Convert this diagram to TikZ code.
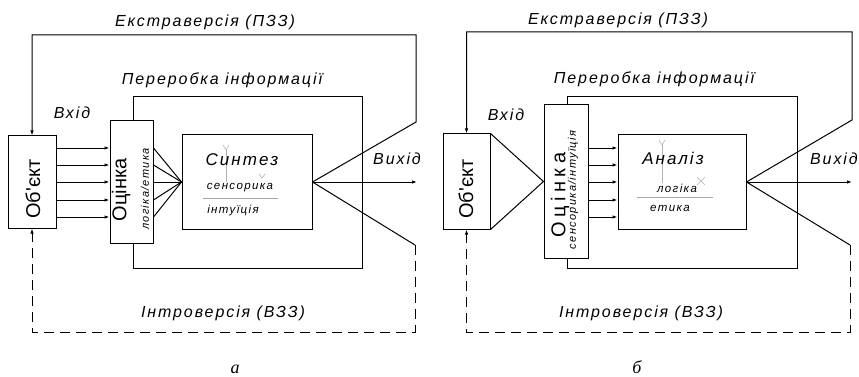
\documentclass[tikz,border=0pt]{standalone}
\usepackage{fontspec}
\usetikzlibrary{arrows.meta}
\newfontfamily\spaced[LetterSpace=12]{Liberation Sans}
\newfontfamily\wide[LetterSpace=22]{Liberation Sans}
\newfontfamily\plainsans{Liberation Sans}
\newfontfamily\capfont{Liberation Serif}
\tikzset{
  blk/.style={draw, line width=1pt, inner sep=0, fill=white},
  lbl/.style={font=\spaced\itshape\fontsize{16}{19}\selectfont, inner sep=0},
  ttl/.style={font=\spaced\itshape\fontsize{17}{20}\selectfont, inner sep=0},
  sub/.style={font=\spaced\itshape\fontsize{11.5}{13}\selectfont, inner sep=0},
  vtxt/.style={rotate=90, inner sep=0, font=\plainsans\fontsize{20}{24}\selectfont},
  vsub/.style={rotate=90, inner sep=0, font=\spaced\itshape\fontsize{11}{13}\selectfont},
  wire/.style={line width=1pt},
  arr/.style={wire, -{Latex[length=5pt,width=3.5pt]}},
  back/.style={wire, dash pattern=on 10pt off 6pt},
  ucs/.style={draw=black!30, line width=0.6pt},
  sep/.style={draw=black!35, line width=1pt},
  capt/.style={font=\capfont\itshape\fontsize{18}{22}\selectfont, inner sep=0, anchor=base}
}
\begin{document}
\begin{tikzpicture}[x=1pt, y=-1pt]
\useasboundingbox (0,0) rectangle (859,377);

% ---------------- panel a: synthesis ----------------
% processing frame
\coordinate (apTL) at (133,97);
\coordinate (apBR) at (362,268);
\draw[wire] (133,121) -- (apTL) -- (apTL -| apBR) -- (apBR) -- (apBR -| apTL) -- (133,243);

\node[blk, minimum width=48pt, minimum height=92pt] (aobj) at (32,182) {};
\node[blk, minimum width=43pt, minimum height=122pt] (aoc) at (131.5,182) {};
\node[blk, minimum width=130pt, minimum height=94pt] (asyn) at (247,182) {};

\node[vtxt] (aobjt) at (33,189) {Об'єкт};
\node[vtxt] (aoct) at (121,190) {Оцінка};
\node[vsub] (aocs) at (145,189) {логіка/етика};

\foreach \yy in {148,165,182,200,217}{
  \draw[arr] (aobj.east |- 0,\yy) -- (aoc.west |- 0,\yy);
  \draw[wire] (aoc.east |- 0,\yy) -- (asyn.west);
}

% inner labels of the synthesis block
\draw[ucs] (226,182) -- (226,150);
\draw[ucs] (223,145) -- (226,150) -- (229,145);
\draw[ucs] (259,174) -- (262,178) -- (265,174);
\node[ttl] (asynt) at (242,160) {Синтез};
\node[sub] (asen) at (240,188) {сенсорика};
\draw[sep] (203,198) -- (278,198);
\node[sub] (aint) at (233,211) {інтуїція};

% output and feedback loops
\coordinate (aout) at (417,182);
\coordinate (aexR) at (416,122);
\coordinate (ainR) at (415,245);
\draw[arr] (asyn.east) -- (aout);
\draw[arr] (asyn.east) -- (aexR) -- (416,35) -- (aobj.north |- 0,35) -- (aobj.north);
\draw[wire] (asyn.east) -- (ainR);
\draw[back, -{Latex[length=5pt,width=3.5pt]}] (ainR) -- (415,332) -- (aobj.south |- 0,332) -- (aobj.south);

\node[lbl] (aext) at (205,22) {Екстраверсія (ПЗЗ)};
\node[lbl] (aproc) at (222,80) {Переробка інформації};
\node[lbl] (ain) at (72,113) {Вхід};
\node[lbl] (aoutt) at (397,159) {Вихід};
\node[lbl] (aintro) at (223,313) {Інтроверсія (ВЗЗ)};
\node[capt] (acap) at (235,373) {а};

% ---------------- panel b: analysis ----------------
\coordinate (bpTL) at (567,97);
\coordinate (bpBR) at (797,268);
\draw[wire] (567,105) -- (bpTL) -- (bpTL -| bpBR) -- (bpBR) -- (bpBR -| bpTL) -- (567,258);

\node[blk, minimum width=47pt, minimum height=95pt] (bobj) at (466.5,181.5) {};
\node[blk, minimum width=44pt, minimum height=153pt] (boc) at (566,181.5) {};
\node[blk, minimum width=128pt, minimum height=94pt] (bana) at (682,182) {};

\node[vtxt] (bobjt) at (466,189) {Об'єкт};
\node[vtxt, font=\wide\fontsize{20}{24}\selectfont] (boct) at (560,195) {Оцінка};
\node[vsub] (bocs) at (573,190) {сенсорика/інтуїція};

\draw[wire] (bobj.north east) -- (boc.west) -- (bobj.south east);
\foreach \yy in {148,165,182,200,217}{
  \draw[arr] (boc.east |- 0,\yy) -- (bana.west |- 0,\yy);
}

% inner labels of the analysis block
\draw[ucs] (662,183) -- (662,145);
\draw[ucs] (659,140) -- (662,145) -- (665,140);
\draw[ucs] (697,177) -- (705,185) (705,177) -- (697,185);
\node[ttl] (banat) at (673,158) {Аналіз};
\node[sub] (blog) at (677,188) {логіка};
\draw[sep] (637,197) -- (713,197);
\node[sub] (beth) at (670,208) {етика};

% output and feedback loops
\coordinate (bout) at (852,182);
\coordinate (bexR) at (852,120);
\coordinate (binR) at (850,245);
\draw[arr] (bana.east) -- (bout);
\draw[arr] (bana.east) -- (bexR) -- (852,32) -- (bobj.north |- 0,32) -- (bobj.north);
\draw[wire] (bana.east) -- (binR);
\draw[back, -{Latex[length=5pt,width=3.5pt]}] (binR) -- (850,332) -- (bobj.south |- 0,332) -- (bobj.south);

\node[lbl] (bext) at (618,20) {Екстраверсія (ПЗЗ)};
\node[lbl] (bproc) at (654,79) {Переробка інформації};
\node[lbl] (bin) at (506,115) {Вхід};
\node[lbl, anchor=east] (boutt) at (858,159) {Вихід};
\node[lbl] (bintro) at (641,313) {Інтроверсія (ВЗЗ)};
\node[capt] (bcap) at (637,373) {б};
\end{tikzpicture}
\end{document}
